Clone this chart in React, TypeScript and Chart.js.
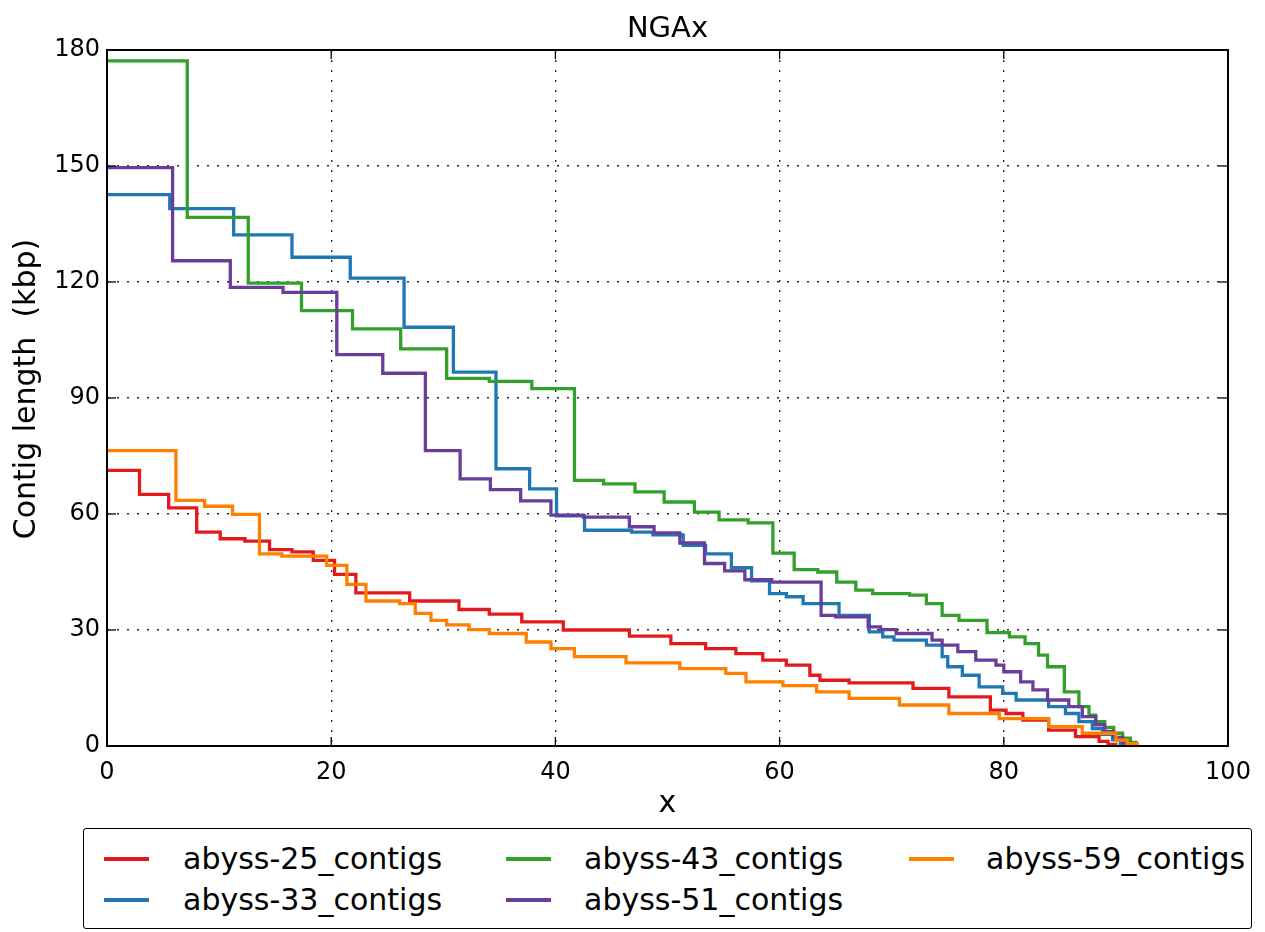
import React, { useEffect, useRef } from "react";
import { Chart, registerables } from "chart.js";

Chart.register(...registerables);

const TITLE = "NGAx";
const X_LABEL = "x";
const Y_LABEL = "Contig length  (kbp)";
const SERIES_NAMES = ["abyss-25_contigs", "abyss-33_contigs", "abyss-43_contigs", "abyss-51_contigs", "abyss-59_contigs"];
const COLORS = ["#E31A1C", "#1F78B4", "#33A02C", "#6A3D9A", "#FF7F00"];
const X_TICKS = [0, 20, 40, 60, 80, 100];
const Y_TICKS = [0, 30, 60, 90, 120, 150, 180];

// step start positions (x, %) and contig lengths (kbp)
const x25 = [0, 2.9, 5.5, 8.0, 10.1, 12.3, 14.5, 16.5, 18.4, 20.3, 22.2, 27.0, 31.4, 34.1, 37.0, 40.7, 46.6, 50.3, 53.4, 56.1, 58.5, 60.6, 62.7, 63.6, 66.2, 71.9, 75.1, 78.8, 80.2, 81.7, 84.0, 86.4, 88.5, 89.3, 90.0];
const y25 = [71.3, 65.1, 61.6, 55.3, 53.6, 53.0, 50.8, 50.2, 48.0, 44.4, 39.6, 37.5, 35.3, 34.1, 32.1, 30.0, 28.4, 26.5, 25.2, 23.9, 22.2, 20.9, 18.3, 17.0, 16.3, 14.9, 12.7, 9.3, 8.4, 6.7, 4.1, 2.4, 1.2, 0.4, 0];

const x33 = [0, 5.6, 11.3, 16.5, 21.7, 26.5, 30.9, 34.7, 37.7, 40.1, 42.6, 46.8, 48.7, 51.4, 53.4, 55.7, 57.5, 59.1, 60.6, 62.1, 65.3, 68.0, 69.2, 70.2, 73.1, 74.5, 75.0, 76.3, 77.8, 79.9, 81.1, 84.0, 85.5, 86.7, 87.9, 88.8, 89.7, 90.4, 90.9];
const y33 = [142.6, 139.0, 132.2, 126.4, 121.0, 108.3, 96.7, 71.7, 66.5, 59.5, 55.8, 55.3, 54.6, 51.9, 49.7, 46.1, 42.7, 39.4, 38.6, 36.8, 33.8, 29.5, 28.2, 27.4, 26.1, 23.1, 20.5, 18.3, 15.3, 13.6, 11.9, 10.2, 8.4, 6.3, 4.5, 3.0, 1.6, 0.6, 0];

const x43 = [0, 7.16, 12.6, 17.35, 21.9, 26.2, 30.3, 34.1, 37.9, 41.7, 44.3, 47.1, 49.7, 52.4, 54.6, 57.2, 59.4, 61.3, 63.4, 65.1, 66.8, 68.3, 71.6, 73.1, 74.5, 76.0, 78.5, 80.5, 81.9, 83.1, 83.9, 85.4, 86.7, 87.6, 88.2, 89.0, 89.8, 90.6, 91.3, 91.8];
const y43 = [177.2, 136.7, 119.7, 112.6, 107.9, 102.7, 95.1, 94.3, 92.4, 68.7, 67.8, 65.7, 63.1, 60.5, 58.5, 57.7, 49.9, 45.6, 45.0, 42.4, 40.3, 39.4, 39.0, 36.8, 33.8, 32.5, 29.3, 28.2, 26.5, 23.5, 20.5, 14.0, 10.2, 8.0, 6.3, 4.8, 3.3, 2.0, 0.9, 0];

const x51 = [0, 5.85, 11.0, 15.7, 20.5, 24.6, 28.4, 31.5, 34.2, 36.9, 39.6, 42.5, 46.6, 48.8, 51.1, 53.3, 55.1, 56.9, 59.3, 63.7, 65.0, 67.9, 69.0, 70.4, 73.6, 74.5, 75.9, 77.5, 79.3, 80.0, 81.5, 82.6, 83.9, 85.8, 87.0, 88.2, 89.0, 89.8, 90.6, 91.2];
const y51 = [149.6, 125.5, 118.6, 117.3, 101.2, 96.4, 76.4, 69.1, 66.3, 63.4, 59.7, 59.2, 56.7, 55.1, 52.5, 47.2, 45.3, 43.0, 42.4, 33.8, 33.4, 30.8, 30.1, 29.1, 27.4, 26.1, 24.4, 22.2, 20.9, 19.2, 16.6, 14.5, 11.9, 10.2, 7.6, 5.5, 3.8, 2.2, 0.9, 0];

const x59 = [0, 6.15, 8.7, 11.2, 13.6, 15.6, 19.6, 21.4, 23.1, 26.1, 27.5, 28.9, 30.3, 32.3, 34.1, 37.4, 39.6, 41.7, 46.3, 51.1, 55.2, 57.0, 60.3, 63.3, 66.2, 70.7, 75.1, 79.6, 84.0, 87.0, 90.0, 91.0, 91.9];
const y59 = [76.4, 63.5, 62.0, 59.9, 49.7, 49.1, 46.7, 41.8, 37.5, 36.8, 34.3, 32.5, 31.3, 30.1, 29.1, 26.9, 25.2, 23.1, 21.5, 20.0, 18.8, 16.6, 15.6, 14.0, 12.3, 10.6, 8.4, 7.1, 5.0, 3.3, 1.5, 0.6, 0];

const SERIES_X = [x25, x33, x43, x51, x59];
const SERIES_Y = [y25, y33, y43, y51, y59];

const FONT = '"DejaVu Sans", "Liberation Sans", sans-serif';

const framePlugin = {
  id: "frameAndTitles",
  afterDatasetsDraw(chart: any) {
    const { ctx, chartArea, scales } = chart;
    const { left, right, top, bottom } = chartArea;
    const line = (x1: number, y1: number, x2: number, y2: number) => {
      ctx.beginPath();
      ctx.moveTo(x1, y1);
      ctx.lineTo(x2, y2);
      ctx.stroke();
    };
    ctx.save();
    ctx.strokeStyle = "#000";
    ctx.lineWidth = 1.3;
    for (const v of X_TICKS) {
      const px = scales.x.getPixelForValue(v);
      line(px, bottom, px, bottom - 9);
      line(px, top, px, top + 9);
    }
    for (const v of Y_TICKS) {
      const py = scales.y.getPixelForValue(v);
      line(left, py, left + 9, py);
      line(right, py, right - 9, py);
    }
    ctx.lineWidth = 2;
    ctx.strokeRect(left, top, right - left, bottom - top);

    ctx.fillStyle = "#000";
    ctx.textAlign = "center";
    ctx.textBaseline = "alphabetic";
    ctx.font = `29px ${FONT}`;
    ctx.fillText(TITLE, (left + right) / 2, 36.7);
    ctx.font = `30px ${FONT}`;
    ctx.fillText(X_LABEL, (left + right) / 2, 812);
    ctx.translate(35, 389);
    ctx.rotate(-Math.PI / 2);
    ctx.fillText(Y_LABEL, 0, 0);
    ctx.restore();
  },
};

function ChartView() {
  const ref = useRef<HTMLCanvasElement | null>(null);
  useEffect(() => {
    if (!ref.current) return;
    const datasets = SERIES_NAMES.map((name, i) => ({
      label: name,
      data: SERIES_X[i].map((x, j) => ({ x, y: SERIES_Y[i][j] })),
      borderColor: COLORS[i],
      backgroundColor: COLORS[i],
      borderWidth: 3.3,
      pointRadius: 0,
      stepped: "before" as const,
      fill: false,
      order: SERIES_NAMES.length - i,
    }));
    const chart = new Chart(ref.current, {
      type: "line",
      data: { datasets },
      options: {
        animation: false,
        responsive: false,
        maintainAspectRatio: false,
        devicePixelRatio: 1,
        layout: { padding: { top: 50, right: 37, left: 0, bottom: 0 } },
        plugins: {
          legend: { display: false },
          title: { display: false },
          tooltip: { enabled: false },
        },
        scales: {
          x: {
            type: "linear",
            min: 0,
            max: 100,
            afterBuildTicks: (s: any) => {
              s.ticks = X_TICKS.map((v) => ({ value: v }));
            },
            afterFit: (s: any) => {
              s.height = 74;
            },
            border: { display: false, dash: [2, 8] },
            grid: {
              color: "rgba(0,0,0,0.85)",
              lineWidth: 1.4,
              drawTicks: false,
            },
            ticks: {
              color: "#000",
              font: { family: FONT, size: 24 },
              padding: 12,
              maxRotation: 0,
            },
          },
          y: {
            type: "linear",
            min: 0,
            max: 180,
            afterBuildTicks: (s: any) => {
              s.ticks = Y_TICKS.map((v) => ({ value: v }));
            },
            afterFit: (s: any) => {
              s.width = 107;
            },
            border: { display: false, dash: [2, 8] },
            grid: {
              color: "rgba(0,0,0,0.85)",
              lineWidth: 1.4,
              drawTicks: false,
            },
            ticks: {
              color: "#000",
              font: { family: FONT, size: 24 },
              padding: 7,
            },
          },
        },
      } as any,
      plugins: [framePlugin],
    });
    return () => chart.destroy();
  }, []);
  return <canvas ref={ref} width={1265} height={820} style={{ display: "block" }} />;
}

function Legend() {
  const col = [
    { handle: 103, text: 182 },
    { handle: 505, text: 583 },
    { handle: 908, text: 985 },
  ];
  const rows = [858, 899];
  const positions = [
    [0, 0],
    [0, 1],
    [1, 0],
    [1, 1],
    [2, 0],
  ];
  return (
    <div
      style={{
        position: "absolute",
        left: 83,
        top: 828,
        width: 1167,
        height: 99,
        border: "1.5px solid #000",
        borderRadius: 3,
        background: "#fff",
      }}
    >
      {SERIES_NAMES.map((name, i) => {
        const [c, r] = positions[i];
        const cy = rows[r] - 828;
        return (
          <React.Fragment key={name}>
            <div
              style={{
                position: "absolute",
                left: col[c].handle - 83,
                top: cy - 2,
                width: 45,
                height: 4,
                background: COLORS[i],
              }}
            />
            <div
              style={{
                position: "absolute",
                left: col[c].text - 83,
                top: cy - 20,
                height: 40,
                lineHeight: "40px",
                fontFamily: FONT,
                fontSize: 30,
                color: "#000",
                whiteSpace: "nowrap",
              }}
            >
              {name}
            </div>
          </React.Fragment>
        );
      })}
    </div>
  );
}

export default function App() {
  return (
    <div style={{ position: "fixed", left: 0, top: 0, width: 1265, height: 932, background: "#fff", overflow: "hidden" }}>
      <ChartView />
      <Legend />
    </div>
  );
}
